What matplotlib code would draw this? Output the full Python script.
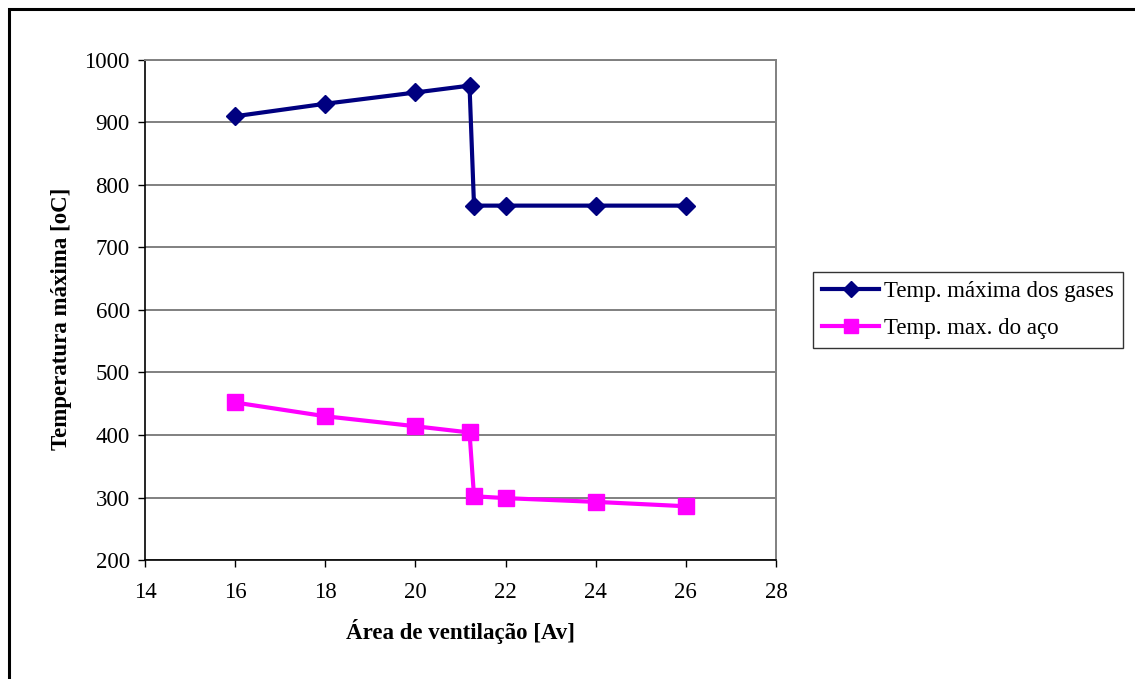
import matplotlib
matplotlib.use("Agg")
import matplotlib.pyplot as plt
from matplotlib.patches import Rectangle

# Ventilation area [Av]
area = [16, 18, 20, 21.2, 21.3, 22, 24, 26]
# Maximum gas temperature [oC]
temp_gases = [910, 930, 948, 959, 767, 767, 767, 767]
# Maximum steel temperature [oC]
temp_aco = [452, 430, 414, 404, 302, 299, 293, 286]

x_ticks = [14, 16, 18, 20, 22, 24, 26, 28]
y_ticks = [200, 300, 400, 500, 600, 700, 800, 900, 1000]

plt.rcParams['font.family'] = ['Liberation Serif', 'DejaVu Serif']

FS = 16.5
W, H = 1135, 679
fig = plt.figure(figsize=(W / 100, H / 100), dpi=100)
fig.patch.set_facecolor('white')

# outer frame
fig.add_artist(Rectangle((9 / W, -0.05), 1.2, 1 - 9 / H + 0.05,
                         transform=fig.transFigure, fill=False,
                         edgecolor='black', linewidth=2.2))

left, right, top, bottom = 145, 776, 60, 560
ax = fig.add_axes([left / W, 1 - bottom / H, (right - left) / W, (bottom - top) / H])

ax.plot(area, temp_gases, color='#000080', linewidth=3, marker='D',
        markersize=9, label='Temp. máxima dos gases', zorder=3)
ax.plot(area, temp_aco, color='#FF00FF', linewidth=3, marker='s',
        markersize=11, label='Temp. max. do aço', zorder=3)

ax.set_xlim(14, 28)
ax.set_ylim(200, 1000)
ax.set_xticks(x_ticks)
ax.set_yticks(y_ticks)
ax.tick_params(labelsize=FS, length=5, width=1, direction='out')
ax.tick_params(axis='x', pad=11)
ax.tick_params(axis='y', pad=6)

ax.yaxis.grid(True, color='#808080', linewidth=1.4)
ax.set_axisbelow(True)
for side in ('top', 'right'):
    ax.spines[side].set_color('#808080')
    ax.spines[side].set_linewidth(1.4)
for side in ('left', 'bottom'):
    ax.spines[side].set_color('black')
    ax.spines[side].set_linewidth(1.2)

ax.set_xlabel('Área de ventilação [Av]', fontsize=FS, fontweight='bold', labelpad=11)
ax.set_ylabel('Temperatura máxima [oC]', fontsize=FS, fontweight='bold', labelpad=9)
ax.yaxis.label.set_y(0.482)

leg = fig.legend(loc='upper left', bbox_to_anchor=(813 / W, 1 - 272 / H),
                 borderaxespad=0, fontsize=FS, frameon=True, fancybox=False,
                 edgecolor='black', handlelength=2.5, handletextpad=0.2,
                 borderpad=0.4, labelspacing=0.7, markerscale=0.9)
leg.get_frame().set_linewidth(1.0)

fig.savefig('out.png', dpi=100, facecolor='white')
